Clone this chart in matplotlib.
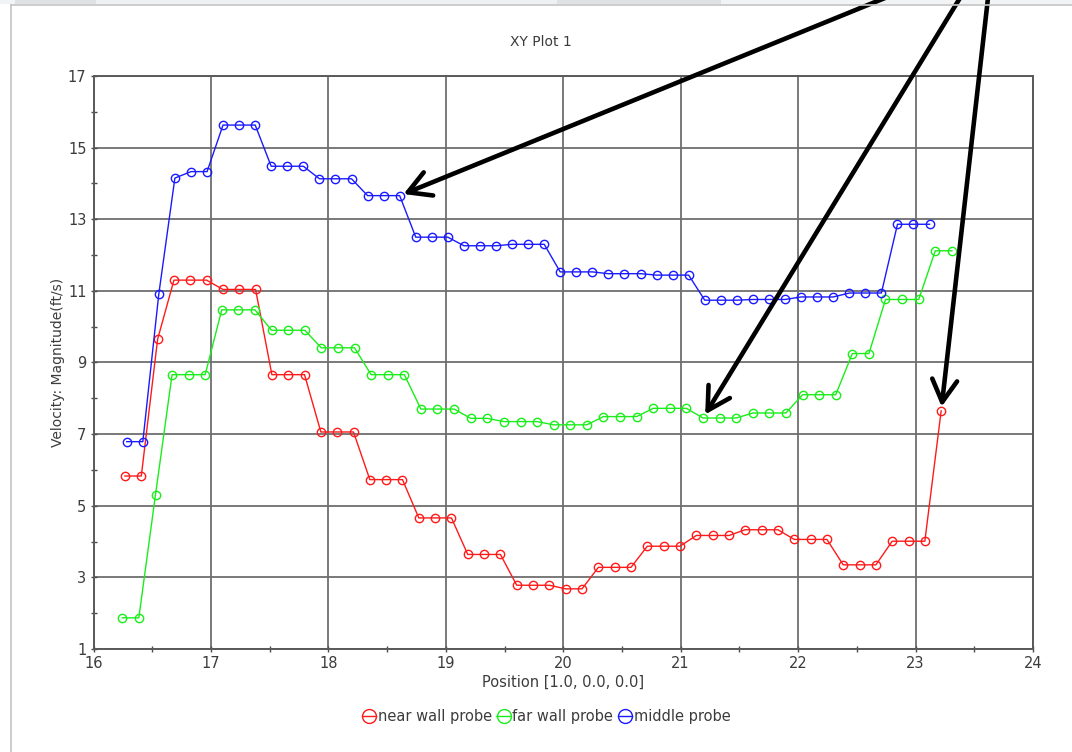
import matplotlib
matplotlib.use("Agg")
import matplotlib.pyplot as plt
from matplotlib.lines import Line2D
from matplotlib.patches import Rectangle

# ---- probe data: position along x [ft] and velocity magnitude [ft/s] ----
x_near = [16.268, 16.407, 16.546, 16.685, 16.824, 16.963, 17.102, 17.241, 17.380, 17.519,
          17.658, 17.797, 17.936, 18.075, 18.214, 18.353, 18.492, 18.631, 18.770, 18.909,
          19.048, 19.187, 19.326, 19.465, 19.604, 19.743, 19.882, 20.021, 20.160, 20.299,
          20.438, 20.577, 20.716, 20.855, 20.994, 21.133, 21.272, 21.411, 21.550, 21.689,
          21.828, 21.967, 22.106, 22.245, 22.384, 22.523, 22.662, 22.801, 22.940, 23.079,
          23.218]
near_wall = [5.83, 5.83, 9.65, 11.30, 11.30, 11.30, 11.04, 11.04, 11.04, 8.66,
             8.66, 8.66, 7.06, 7.06, 7.06, 5.73, 5.73, 5.73, 4.66, 4.66,
             4.66, 3.64, 3.64, 3.64, 2.78, 2.78, 2.78, 2.68, 2.68, 3.28,
             3.28, 3.28, 3.87, 3.87, 3.87, 4.17, 4.17, 4.17, 4.33, 4.33,
             4.33, 4.06, 4.06, 4.06, 3.35, 3.35, 3.35, 4.01, 4.01, 4.01,
             7.65]

x_far = [16.245, 16.386, 16.528, 16.669, 16.810, 16.951, 17.092, 17.234, 17.375, 17.516,
         17.657, 17.799, 17.940, 18.081, 18.223, 18.364, 18.505, 18.647, 18.788, 18.929,
         19.071, 19.212, 19.353, 19.494, 19.636, 19.777, 19.918, 20.060, 20.201, 20.342,
         20.484, 20.625, 20.766, 20.907, 21.049, 21.190, 21.331, 21.473, 21.614, 21.755,
         21.896, 22.038, 22.179, 22.320, 22.462, 22.603, 22.744, 22.885, 23.027, 23.168,
         23.309]
far_wall = [1.87, 1.87, 5.31, 8.66, 8.66, 8.66, 10.47, 10.47, 10.47, 9.90,
            9.90, 9.90, 9.41, 9.41, 9.41, 8.66, 8.66, 8.66, 7.70, 7.70,
            7.70, 7.44, 7.44, 7.35, 7.35, 7.35, 7.26, 7.26, 7.26, 7.49,
            7.49, 7.49, 7.72, 7.72, 7.72, 7.45, 7.45, 7.45, 7.59, 7.59,
            7.59, 8.10, 8.10, 8.10, 9.25, 9.25, 10.76, 10.76, 10.76, 12.12,
            12.12]

x_mid = [16.283, 16.420, 16.556, 16.693, 16.830, 16.967, 17.103, 17.240, 17.377, 17.513,
         17.650, 17.787, 17.924, 18.060, 18.197, 18.334, 18.470, 18.607, 18.744, 18.881,
         19.017, 19.154, 19.291, 19.428, 19.564, 19.701, 19.838, 19.974, 20.111, 20.248,
         20.385, 20.521, 20.658, 20.795, 20.932, 21.068, 21.205, 21.342, 21.478, 21.615,
         21.752, 21.889, 22.025, 22.162, 22.299, 22.436, 22.572, 22.709, 22.846, 22.982,
         23.119]
middle = [6.79, 6.79, 10.91, 14.15, 14.33, 14.33, 15.63, 15.63, 15.63, 14.48,
          14.48, 14.48, 14.13, 14.13, 14.13, 13.66, 13.66, 13.66, 12.50, 12.50,
          12.50, 12.26, 12.26, 12.26, 12.30, 12.30, 12.30, 11.53, 11.53, 11.53,
          11.48, 11.48, 11.48, 11.44, 11.44, 11.44, 10.74, 10.74, 10.74, 10.76,
          10.76, 10.76, 10.83, 10.83, 10.83, 10.94, 10.94, 10.94, 12.86, 12.86,
          12.86]

series_labels = ["near wall probe", "far wall probe", "middle probe"]
series_colors = ["#ff1a1a", "#1aee1a", "#1a1aff"]

x_ticks = [16, 17, 18, 19, 20, 21, 22, 23, 24]
y_ticks = [1, 3, 5, 7, 9, 11, 13, 15, 17]

W, H = 1072, 752
fig = plt.figure(figsize=(W / 100, H / 100), dpi=100)
fig.patch.set_facecolor("white")


def band(x0, y0, x1, y1, color):
    fig.add_artist(Rectangle((x0 / W, 1 - y1 / H), (x1 - x0) / W, (y1 - y0) / H,
                             transform=fig.transFigure, facecolor=color,
                             edgecolor="none", zorder=0))


# window chrome: tab strip and panel border
band(0, 0, W, 4, "#f2f3f4")
band(15, 0, 96, 4, "#dfe1e3")
band(96, 0, 557, 4, "#eef0f2")
band(557, 0, 721, 4, "#dfe1e3")
fig.add_artist(Line2D([11 / W, 1], [1 - 5 / H, 1 - 5 / H], transform=fig.transFigure,
                      color="#c4c4c4", lw=1.2))
fig.add_artist(Line2D([11 / W, 11 / W], [0, 1 - 5 / H], transform=fig.transFigure,
                      color="#c4c4c4", lw=1.2))

ax = fig.add_axes([93.5 / W, 1 - 649 / H, (1033 - 93.5) / W, (649 - 76) / H])
ax.set_xlim(16, 24)
ax.set_ylim(1, 17)
ax.set_xticks(x_ticks)
ax.set_xticks([t + 0.5 for t in x_ticks[:-1]], minor=True)
ax.set_yticks(y_ticks)
ax.set_yticks([t + 1 for t in y_ticks[:-1]], minor=True)
ax.grid(which="major", color="#6e6e6e", lw=1.3)
ax.set_axisbelow(True)
for s in ax.spines.values():
    s.set_color("#5a5a5a")
    s.set_linewidth(1.4)
ax.tick_params(which="both", direction="inout", length=5, width=1, color="#4a4a4a",
               labelsize=10.5, labelcolor="#3c3c3c")
ax.tick_params(axis="y", which="both", pad=2.5)
ax.tick_params(axis="x", which="both", pad=2.5)

for xs, ys, lab, col in zip([x_near, x_far, x_mid], [near_wall, far_wall, middle],
                            series_labels, series_colors):
    ax.plot(xs, ys, color=col, lw=1.0, marker="o", mfc="none", mec=col, ms=6.0,
            mew=1.0, label=lab, zorder=3)

ax.set_xlabel("Position [1.0, 0.0, 0.0]", fontsize=10.5, color="#3c3c3c", labelpad=3)
ax.set_ylabel("Velocity: Magnitude(ft/s)", fontsize=10, color="#3c3c3c")
ax.yaxis.set_label_coords(-0.030, 0.5)
fig.text(541 / W, 1 - 42 / H, "XY Plot 1", ha="center", va="center", fontsize=10,
         color="#3c3c3c")

handles = [Line2D([], [], color=c, lw=1.0, marker="o", mfc="none", mec=c, ms=10, mew=1.0)
           for c in series_colors]
fig.legend(handles, series_labels, loc="center", bbox_to_anchor=(546 / W, 1 - 717 / H),
           ncol=3, frameon=False, fontsize=10.5, handlelength=1.0, handletextpad=0.1,
           columnspacing=0.3, labelcolor="#3c3c3c")

# callout arrows pointing at the three probe readings
arrow_style = dict(arrowstyle="->,head_length=0.8,head_width=0.45", color="black",
                   lw=3.3, shrinkA=0, shrinkB=3, mutation_scale=20)
ax.annotate("", xy=(x_mid[17], middle[17]), xycoords="data",
            xytext=(885, H + 2), textcoords="figure pixels",
            arrowprops=arrow_style, annotation_clip=False)
ax.annotate("", xy=(x_far[35], far_wall[35]), xycoords="data",
            xytext=(960, H + 2), textcoords="figure pixels",
            arrowprops=arrow_style, annotation_clip=False)
ax.annotate("", xy=(x_near[50], near_wall[50]), xycoords="data",
            xytext=(988, H + 2), textcoords="figure pixels",
            arrowprops=arrow_style, annotation_clip=False)

fig.savefig("out.png", dpi=100)
